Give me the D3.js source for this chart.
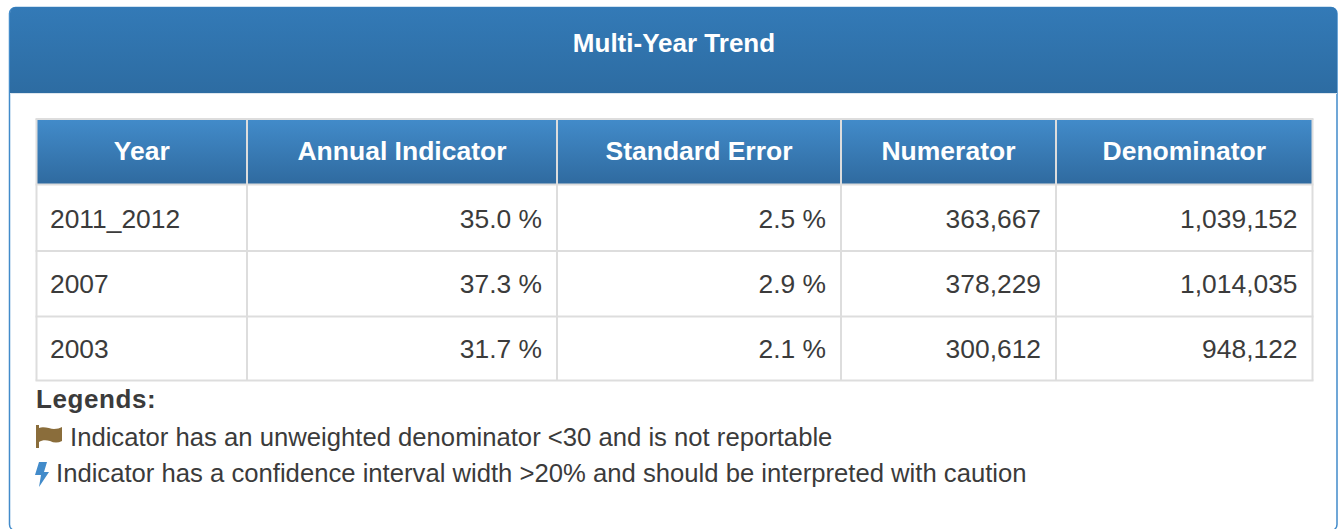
<!DOCTYPE html>
<html>
<head>
<meta charset="utf-8">
<script src="https://cdnjs.cloudflare.com/ajax/libs/d3/7.8.5/d3.min.js"></script>
<style>
html, body { margin: 0; padding: 0; background: #fff; overflow: hidden; }
text { font-family: "Liberation Sans", Arial, sans-serif; }
</style>
</head>
<body>
<script>
'use strict';

const title = "Multi-Year Trend";
const columns = ["Year", "Annual Indicator", "Standard Error", "Numerator", "Denominator"];
const years = ["2011_2012", "2007", "2003"];
const annualIndicator = ["35.0 %", "37.3 %", "31.7 %"];
const standardError = ["2.5 %", "2.9 %", "2.1 %"];
const numerator = ["363,667", "378,229", "300,612"];
const denominator = ["1,039,152", "1,014,035", "948,122"];
const legendTitle = "Legends:";
const legendFlag = "Indicator has an unweighted denominator <30 and is not reportable";
const legendBolt = "Indicator has a confidence interval width >20% and should be interpreted with caution";

// column and row edges of the table
const colEdges = [36.5, 247, 557, 841, 1056, 1312.5];
const rowEdges = [119, 184.5, 251, 316.5, 380.5];

const svg = d3.select("body").append("svg")
    .attr("width", 1339)
    .attr("height", 529)
    .style("display", "block");

const defs = svg.append("defs");

function addGradient(id, top, bottom) {
    const g = defs.append("linearGradient")
        .attr("id", id)
        .attr("x1", 0).attr("y1", 0).attr("x2", 0).attr("y2", 1);
    g.append("stop").attr("offset", "0%").attr("stop-color", top);
    g.append("stop").attr("offset", "100%").attr("stop-color", bottom);
}
addGradient("panelHead", "#337ab7", "#2d6ca2");
addGradient("tableHead", "#428bca", "#2f6a9f");

// panel, its bottom edge is cut off by the window
svg.append("rect")
    .attr("x", 9.5).attr("y", 7.5)
    .attr("width", 1327.5).attr("height", 523)
    .attr("rx", 6)
    .attr("fill", "#fff")
    .attr("stroke", "#428bca")
    .attr("stroke-width", 1.5);

const headPath = d3.path();
headPath.moveTo(10, 93);
headPath.lineTo(10, 14);
headPath.arcTo(10, 7, 17, 7, 6);
headPath.lineTo(1330, 7);
headPath.arcTo(1337, 7, 1337, 14, 6);
headPath.lineTo(1337, 93);
headPath.closePath();
svg.append("path")
    .attr("d", headPath.toString())
    .attr("fill", "url(#panelHead)");
svg.append("line")
    .attr("x1", 10).attr("x2", 1337)
    .attr("y1", 93.5).attr("y2", 93.5)
    .attr("stroke", "#dde6ee");

svg.append("text")
    .attr("x", 674).attr("y", 52)
    .attr("text-anchor", "middle")
    .attr("fill", "#fff")
    .style("font-size", "26px")
    .style("font-weight", "bold")
    .text(title);

// table header background
svg.append("rect")
    .attr("x", colEdges[0]).attr("y", rowEdges[0])
    .attr("width", colEdges[5] - colEdges[0])
    .attr("height", rowEdges[1] - rowEdges[0])
    .attr("fill", "url(#tableHead)");

// table grid
const grid = svg.append("g")
    .attr("stroke", "#dddddd")
    .attr("stroke-width", 2);

grid.selectAll(".h")
    .data(rowEdges)
    .enter()
    .append("line")
    .attr("x1", colEdges[0] - 1).attr("x2", colEdges[5] + 1)
    .attr("y1", (d) => d).attr("y2", (d) => d);

grid.selectAll(".v")
    .data(colEdges)
    .enter()
    .append("line")
    .attr("x1", (d) => d).attr("x2", (d) => d)
    .attr("y1", rowEdges[0]).attr("y2", rowEdges[4]);

// header labels
svg.selectAll(".colHead")
    .data(columns)
    .enter()
    .append("text")
    .attr("class", "colHead")
    .attr("x", (d, i) => (colEdges[i] + colEdges[i + 1]) / 2)
    .attr("y", 160)
    .attr("text-anchor", "middle")
    .attr("fill", "#fff")
    .style("font-size", "26.5px")
    .style("font-weight", "bold")
    .text((d) => d);

// body cells
const rowBase = [228, 293, 358];
const cols = [years, annualIndicator, standardError, numerator, denominator];

cols.forEach((values, c) => {
    svg.selectAll(".cell" + c)
        .data(values)
        .enter()
        .append("text")
        .attr("class", "cell" + c)
        .attr("x", c === 0 ? 50 : colEdges[c + 1] - 15)
        .attr("y", (d, i) => rowBase[i])
        .attr("text-anchor", c === 0 ? "start" : "end")
        .attr("fill", "#3b3b3b")
        .style("font-size", "26.4px")
        .text((d) => d);
});

// legends
svg.append("text")
    .attr("x", 36).attr("y", 408)
    .attr("fill", "#3b3b3b")
    .style("font-size", "26px")
    .style("font-weight", "bold")
    .style("letter-spacing", "0.6px")
    .text(legendTitle);

svg.append("text")
    .attr("x", 70).attr("y", 446)
    .attr("fill", "#3b3b3b")
    .style("font-size", "25.67px")
    .text(legendFlag);

svg.append("text")
    .attr("x", 56).attr("y", 482)
    .attr("fill", "#3b3b3b")
    .style("font-size", "25.67px")
    .text(legendBolt);

// flag icon
const flagIcon = svg.append("g").attr("fill", "#8a6d3b");
flagIcon.append("rect")
    .attr("x", 36).attr("y", 425)
    .attr("width", 3).attr("height", 23);
flagIcon.append("path")
    .attr("d", "M39,428 C44,426 50,429 54,429 C57,429 60,428 62,427 L62,441 C58,443 54,443 50,441 C46,440 42,440 39,442 Z");

// bolt icon
svg.append("path")
    .attr("fill", "#428bca")
    .attr("d", "M39,462 L47,462 L44,472 L49,472 L39,487 L41,475 L35,475 Z");
</script>
</body>
</html>
